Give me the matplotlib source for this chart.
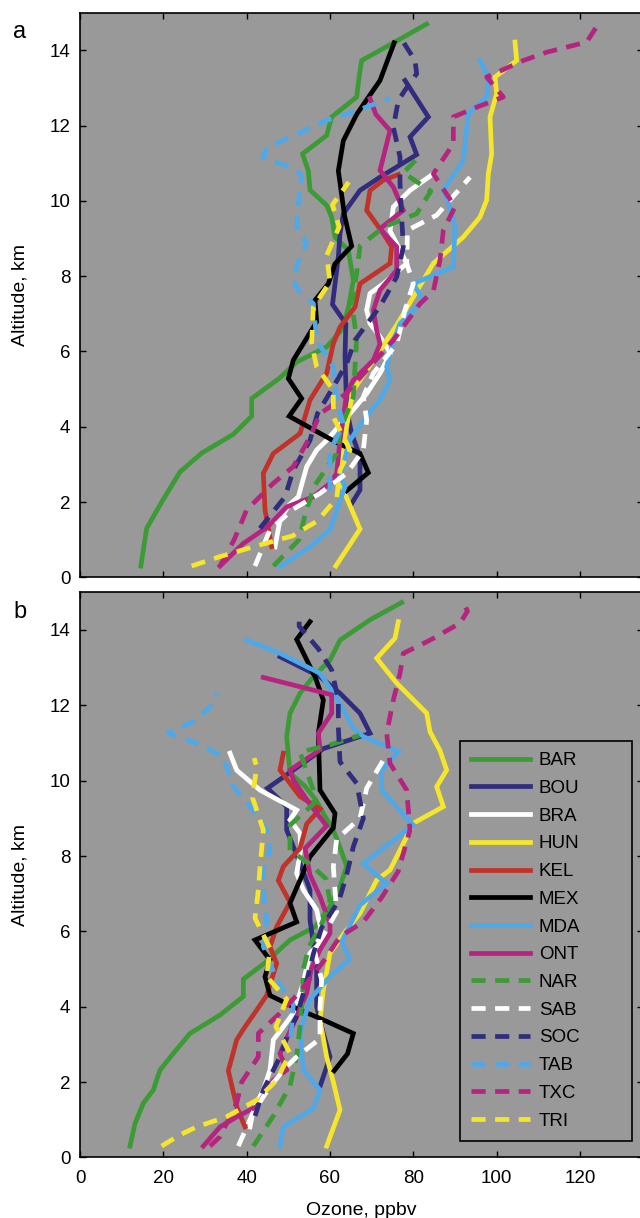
import matplotlib
matplotlib.use('Agg')
import matplotlib.pyplot as plt

plt.rcParams['font.family'] = ['Liberation Sans', 'DejaVu Sans']

sites = ['BAR', 'BOU', 'BRA', 'HUN', 'KEL', 'MEX', 'MDA', 'ONT',
         'NAR', 'SAB', 'SOC', 'TAB', 'TXC', 'TRI']
colors = ['#3d9b35', '#312c7e', '#ffffff', '#f5e62b', '#c0322a', '#000000',
          '#4fa8e8', '#b5257f', '#3d9b35', '#ffffff', '#312c7e', '#4fa8e8',
          '#b5257f', '#f5e62b']
solid = [True] * 8 + [False] * 6

x_ticks = [0, 20, 40, 60, 80, 100, 120]
y_ticks = [0, 2, 4, 6, 8, 10, 12, 14]

# ---------- panel a: (ozone ppbv, altitude km) ----------
BAR_a = [(14.6, 0.3), (16, 1.3), (19.6, 2.0), (24, 2.8), (29.2, 3.3), (36.8, 3.8),
         (41.2, 4.28), (41.2, 4.75), (48, 5.3), (52, 5.72), (59.2, 6.12), (63, 6.6),
         (64.5, 7.2), (65.6, 7.9), (64.4, 8.69), (61.2, 9.04), (60.4, 9.57),
         (59.2, 9.88), (55.2, 10.29), (54.8, 10.8), (53.4, 11.25), (59.2, 11.74),
         (60.4, 12.23), (66.4, 12.76), (67, 13.3), (67.6, 13.73), (75.2, 14.2), (83.2, 14.7)]
BOU_a = [(65.2, 1.96), (67.2, 2.32), (67.2, 3.2), (65.2, 3.82), (64, 4.44), (63.6, 5.86),
         (63.8, 6.74), (60.6, 7.25), (62, 8.51), (62.4, 9.13), (63.2, 9.66), (67.2, 10.28),
         (72, 10.63), (76, 10.9), (80.8, 11.23), (79.2, 11.7), (83.6, 12.23), (78, 13.2)]
BRA_a = [(46.8, 0.81), (48, 1.52), (50, 1.9), (52.4, 2.14), (54.4, 2.94), (56.8, 3.38),
         (59.2, 3.64), (64.8, 4.35), (68.8, 4.88), (72, 5.42), (74.5, 5.95), (72, 6.39),
         (69.6, 6.74), (68.8, 7.1), (69.6, 7.54), (72.8, 7.8), (78.4, 8.34), (76, 8.87),
         (74.4, 9.2), (75.2, 9.84), (79.2, 10.28), (84.8, 10.72)]
HUN_a = [(61.4, 0.3), (67.2, 1.28), (63.2, 2.32), (62, 2.8), (62.8, 3.29), (64, 4.0),
         (64.8, 4.53), (65.6, 4.97), (68.8, 5.5), (72, 6.03), (76, 6.7), (80, 7.45),
         (84.8, 8.34), (92, 9.04), (96, 9.57), (97.6, 10.02), (98, 10.72), (98.8, 11.25),
         (98.4, 12.23), (100, 12.85), (99.6, 13.29), (104.8, 13.73), (104.4, 14.22)]
KEL_a = [(46, 0.81), (44.4, 1.79), (44, 2.76), (46.4, 3.29), (52.8, 3.82), (55.2, 4.71),
         (59.2, 5.42), (60.8, 6.21), (62.4, 6.65), (66, 7.18), (67.2, 7.8), (74.4, 8.34),
         (74.8, 8.78), (72.8, 9.13), (68.8, 9.75), (69.6, 10.28), (72.8, 10.55), (76.4, 10.7)]
MEX_a = [(64, 2.3), (69.2, 2.78), (67.2, 3.29), (61.6, 3.58), (50.2, 4.28), (53.2, 4.75),
         (50, 5.28), (51.2, 5.77), (56.8, 6.79), (56.4, 7.36), (59.6, 7.8), (61.2, 8.33),
         (65.2, 8.8), (63.5, 9.6), (62, 10.8), (63.2, 11.6), (66.4, 12.3), (72, 13.2),
         (75.4, 14.2)]
MDA_a = [(48, 0.28), (55.2, 0.81), (60, 1.26), (62.4, 2.05), (63.6, 2.4), (62.4, 2.7),
         (64.8, 3.64), (68, 4.18), (72, 4.71), (74.4, 5.24), (73.6, 5.59), (75, 6.2),
         (76.8, 6.74), (82.4, 7.36), (80, 7.8), (89.6, 8.25), (90, 9.31), (88, 10.1),
         (87.2, 10.28), (92, 11.08), (93.2, 12.32), (97.6, 12.76), (98, 13.29), (96, 13.73)]
ONT_a = [(33.6, 0.3), (39.2, 0.9), (45, 1.34), (49.6, 1.87), (56, 2.14), (60, 2.5),
         (61.6, 2.76), (62.4, 3.64), (64, 4.88), (65.6, 5.24), (70.4, 5.77), (72, 6.2),
         (71.2, 6.56), (70.4, 7.1), (72, 7.63), (76, 8.16), (76, 8.78), (72, 9.26),
         (77.6, 9.75), (75.2, 10.37), (72, 10.81), (74.4, 11.87), (71, 12.3), (69.6, 12.72)]
NAR_a = [(46.4, 0.3), (52.6, 1.0), (54.2, 1.75), (56.4, 2.45), (61.6, 3.29), (62.4, 3.91),
         (65.6, 4.79), (66, 5.59), (66.4, 6.35), (65.2, 7.27), (66.4, 8.07), (67.2, 8.8),
         (72.8, 9.3), (80.8, 9.66), (84.2, 10.26), (77.6, 10.75), (81.6, 11.2)]
SAB_a = [(42, 0.3), (45.6, 1.26), (51, 1.8), (57.6, 2.23), (64, 2.76), (68, 3.38),
         (68.8, 4.18), (68, 4.8), (70.4, 5.42), (76, 6.2), (78, 7.1), (80, 7.8),
         (78.4, 8.34), (78.6, 9.22), (85.6, 9.62), (93.6, 10.63)]
SOC_a = [(43.2, 1.3), (49.2, 2.14), (51.2, 2.85), (55.2, 3.64), (57, 4.35), (60.8, 5.06),
         (64, 5.68), (66, 6.3), (72, 7.2), (76, 7.98), (77.6, 8.78), (77.2, 9.57),
         (76.8, 10.46), (76.8, 11.17), (75.2, 11.96), (76.4, 12.67), (78, 12.94),
         (80.8, 13.38), (80.4, 13.73), (77.6, 14.22)]
TAB_a = [(60, 2.3), (60, 3.38), (63.2, 4.05), (61.6, 4.75), (60.8, 5.59), (56.8, 6.3),
         (56, 7.27), (52.4, 7.63), (51.2, 7.89), (52.4, 8.38), (54.4, 8.87), (52, 9.31),
         (52.4, 9.93), (53.2, 10.68), (51.2, 10.86), (43.8, 11.17), (45, 11.43),
         (52.8, 11.81), (59.2, 12.14), (66.4, 12.4), (74.4, 12.72)]
TXC_a = [(33.6, 0.3), (37, 1.0), (40, 1.79), (46.4, 2.5), (51.2, 2.94), (55.2, 3.73),
         (57.6, 4.35), (60, 4.53), (64, 4.9), (68, 5.4), (72, 5.9), (75.2, 6.3),
         (78.5, 6.8), (81.6, 7.27), (84.8, 7.6), (86.4, 8.43), (87.2, 9.22), (90, 9.84),
         (84.8, 10.72), (89.6, 11.52), (89.6, 12.23), (95.2, 12.49), (101.6, 12.76),
         (97.6, 13.29), (106.4, 13.73), (112, 13.95), (121.6, 14.22), (124.4, 14.7)]
TRI_a = [(26.8, 0.3), (33.6, 0.55), (41.6, 0.81), (51, 1.1), (57, 1.5), (61.6, 2.1),
         (62.4, 2.85), (64.8, 3.38), (60.8, 4.26), (60.8, 4.97), (56.8, 5.59), (55.6, 6.21),
         (56, 7.18), (60, 7.85), (59.2, 8.55), (62.2, 9.31), (60.6, 9.9), (64.5, 10.5)]

# ---------- panel b: (ozone ppbv, altitude km) ----------
BAR_b = [(12, 0.3), (13.2, 0.9), (15.2, 1.44), (17.6, 1.79), (19.2, 2.32), (22.4, 2.76),
         (26.4, 3.29), (33.6, 3.78), (39.2, 4.27), (39.2, 4.73), (44.8, 5.2), (50.4, 5.77),
         (56.4, 6.12), (60, 6.66), (62.4, 7.19), (64, 7.72), (62.5, 8.2), (60.8, 8.69),
         (58.4, 9.13), (56.6, 9.49), (54, 9.85), (50.4, 10.2), (49.6, 11.17), (50.4, 11.79),
         (52.8, 12.32), (56, 12.76), (60, 13.2), (62.4, 13.73), (69.6, 14.27), (77.2, 14.73)]
BOU_b = [(57.6, 1.88), (60, 2.67), (58.4, 3.29), (56.8, 4.0), (56.8, 5.06), (55.2, 6.3),
         (55.2, 7.1), (52.8, 7.81), (49.6, 8.69), (49.6, 9.31), (45, 9.8), (51.2, 10.28),
         (58.4, 10.85), (69.6, 11.26), (67.2, 11.79), (62.4, 12.32), (57.6, 12.76), (48, 13.29)]
BRA_b = [(40.8, 0.81), (41.6, 1.26), (44, 1.79), (45.6, 2.32), (46.4, 3.12), (48.8, 3.47),
         (51.2, 3.83), (53.5, 4.6), (55.2, 5.42), (58.4, 5.77), (56.8, 6.57), (53.6, 7.1),
         (52, 7.54), (53, 8.2), (52.8, 8.6), (50.4, 8.96), (52, 9.22), (43.2, 9.75),
         (37.6, 10.28), (36, 10.73)]
HUN_b = [(59.2, 0.3), (62.4, 1.26), (60.8, 2.0), (59.2, 2.67), (57.6, 3.65), (58.4, 4.44),
         (60, 5.42), (64, 6.04), (67.2, 6.48), (71.2, 7.36), (74.4, 7.63), (77, 8.2),
         (80, 8.87), (87.2, 9.31), (85.6, 9.84), (88, 10.28), (86.4, 10.8), (84, 11.3),
         (83.2, 11.79), (76, 12.59), (71.2, 13.25), (75.6, 13.78), (76.4, 14.22)]
KEL_b = [(39.6, 0.81), (37.6, 1.35), (35.6, 2.3), (37.6, 3.12), (39.2, 3.4), (42.4, 3.91),
         (44.8, 4.3), (47.2, 5.15), (45.6, 5.59), (47.2, 6.12), (50.4, 6.77), (47.6, 7.35),
         (48.8, 7.72), (52.8, 8.2), (54.4, 8.85), (57.6, 9.25), (52.8, 9.58), (48, 10.28),
         (48.8, 10.73)]
MEX_b = [(61, 2.3), (64.2, 2.75), (65.6, 3.29), (57.6, 3.69), (52.8, 3.91), (45.6, 4.3),
         (44.4, 4.8), (45.6, 5.24), (42, 5.77), (52, 6.25), (50.4, 6.75), (52.8, 7.36),
         (55.2, 7.98), (60.8, 8.75), (61.2, 9.13), (57.6, 9.75), (57.2, 11.26),
         (58.4, 12.14), (56.4, 12.76), (52, 13.75), (55.2, 14.22)]
MDA_b = [(48, 0.3), (48.8, 0.81), (56, 1.3), (57.6, 1.79), (53.6, 2.32), (52.8, 3.3),
         (55.2, 4.2), (60, 4.8), (64.8, 5.26), (62.8, 5.72), (67.2, 6.7), (73.6, 7.27),
         (68, 7.8), (80, 8.82), (72.4, 9.75), (72.4, 10.28), (76.4, 10.77), (68, 11.17),
         (65.6, 11.4), (61.6, 12.2), (57.6, 12.85), (48, 13.38), (40, 13.73)]
ONT_b = [(29.6, 0.3), (33.6, 0.81), (38, 1.1), (42.4, 1.35), (46.4, 2.05), (49.6, 2.32),
         (48, 2.76), (52, 3.74), (54.4, 4.36), (55.5, 5.0), (57.6, 5.51), (60, 5.95),
         (60, 6.2), (57.6, 6.92), (55.2, 7.5), (54, 8.2), (59.2, 8.8), (55.6, 9.31),
         (51.2, 10.02), (50.4, 10.28), (57.6, 10.82), (57.2, 11.26), (60.4, 11.79),
         (60.4, 12.28), (44, 12.74)]
NAR_b = [(41.6, 0.3), (46.4, 1.1), (50.4, 1.9), (52, 2.7), (52.8, 3.47), (53.4, 4.27),
         (53.6, 5.0), (55, 5.6), (58, 6.2), (60, 6.8), (59, 7.4), (55, 7.8), (50.4, 8.15),
         (50.4, 8.82), (56.2, 9.4), (56, 9.75), (52.8, 10.76), (60, 10.95), (67, 11.2)]
SAB_b = [(38, 0.3), (41.6, 1.2), (45.6, 1.88), (49.6, 2.41), (52, 2.67), (57.6, 3.15),
         (57.6, 4.0), (58, 4.71), (56, 5.6), (58.4, 5.9), (61.6, 6.52), (61.2, 7.1),
         (60.8, 7.72), (61.6, 8.45), (67.2, 9.0), (68.8, 9.8), (72.8, 10.55)]
SOC_b = [(42, 1.1), (44, 1.79), (48, 2.67), (50, 3.3), (52, 3.75), (54, 4.5), (56, 5.4),
         (58, 6.1), (62.2, 6.83), (64, 7.5), (65.6, 8.25), (68, 9.0), (66.4, 9.93),
         (62.4, 10.5), (62, 11.43), (62, 12.14), (60.4, 12.94), (57.2, 13.5),
         (52.6, 14.1), (52.6, 14.22)]
TAB_b = [(50.6, 3.2), (51.2, 4.05), (47.2, 4.71), (44, 5.6), (44.8, 6.3), (44, 7.1),
         (44, 7.63), (45.6, 8.16), (44.8, 8.69), (41.6, 9.2), (36.8, 9.84), (34.4, 10.64),
         (28, 10.99), (21.2, 11.26), (28, 11.61), (32, 12.05), (32.8, 12.32)]
TXC_b = [(31.2, 0.3), (33.6, 0.55), (37.6, 1.44), (38.8, 2.0), (42.8, 2.67), (42.8, 3.29),
         (48, 3.83), (52.8, 4.4), (58.4, 5.2), (62.4, 5.86), (68, 6.25), (72.4, 6.9),
         (76.4, 7.6), (79.2, 8.69), (78.4, 9.75), (74.4, 10.46), (73.6, 11.26),
         (75.2, 12.14), (76.8, 12.85), (77.6, 13.38), (84, 13.73), (91.2, 14.18),
         (93, 14.5), (91.6, 14.8)]
TRI_b = [(19.6, 0.3), (24, 0.6), (28, 0.81), (35.2, 1.08), (42.4, 1.52), (47.2, 2.05),
         (50.4, 2.76), (47, 3.47), (49.6, 4.2), (44.8, 4.8), (45.6, 5.55), (42, 6.35),
         (42.8, 7.1), (43.2, 7.7), (44, 8.69), (41.4, 9.55), (42.4, 10.37), (41.8, 10.6)]

panel_a = [BAR_a, BOU_a, BRA_a, HUN_a, KEL_a, MEX_a, MDA_a, ONT_a,
           NAR_a, SAB_a, SOC_a, TAB_a, TXC_a, TRI_a]
panel_b = [BAR_b, BOU_b, BRA_b, HUN_b, KEL_b, MEX_b, MDA_b, ONT_b,
           NAR_b, SAB_b, SOC_b, TAB_b, TXC_b, TRI_b]

W, H = 640, 1218
fig = plt.figure(figsize=(W / 100, H / 100), dpi=100)
left = 80 / W
width = 562.5 / W
ax_a = fig.add_axes([left, 1 - 577.3 / H, width, (577.3 - 12.7) / H])
ax_b = fig.add_axes([left, 1 - 1157.4 / H, width, (1157.4 - 592.3) / H])

LW = 3.4
for ax, data in ((ax_a, panel_a), (ax_b, panel_b)):
    ax.set_facecolor('#999999')
    for name, col, sol, pts in zip(sites, colors, solid, data):
        xs = [p[0] for p in pts]
        ys = [p[1] for p in pts]
        if sol:
            ax.plot(xs, ys, color=col, lw=LW, solid_joinstyle='miter', label=name)
        else:
            ax.plot(xs, ys, color=col, lw=LW, linestyle=(0, (3.0, 2.0)),
                    dash_capstyle='butt', label=name)
    ax.set_xlim(0, 135)
    ax.set_ylim(0, 15)
    ax.set_xticks(x_ticks)
    ax.set_yticks(y_ticks)
    ax.tick_params(direction='in', top=True, right=True, length=4, width=1,
                   labelsize=13.5)
    ax.tick_params(axis='x', pad=9)
    ax.tick_params(axis='y', pad=7)
    for s in ax.spines.values():
        s.set_linewidth(1.2)
    ax.set_ylabel('Altitude, km', fontsize=14)
    ax.yaxis.set_label_coords(-0.092, 0.5)

ax_a.set_xticklabels([])
ax_b.set_xlabel('Ozone, ppbv', fontsize=14)
ax_b.xaxis.set_label_coords(0.5, -0.079)

leg = ax_b.legend(loc='upper left', bbox_to_anchor=(0.6756, 0.0, 0.3057, 0.737),
                  mode='expand', fontsize=13.5,
                  handlelength=3.15, handletextpad=0.45, labelspacing=0.565,
                  borderpad=0.6, borderaxespad=0, frameon=True, fancybox=False)
leg.get_frame().set_facecolor('#999999')
leg.get_frame().set_edgecolor('black')
leg.get_frame().set_linewidth(1.2)
leg.get_frame().set_alpha(1)

fig.text(20 / W, 1 - 32 / H, 'a', fontsize=17, ha='center', va='center')
fig.text(20 / W, 1 - 612 / H, 'b', fontsize=17, ha='center', va='center')

fig.savefig('out.png', dpi=100)
